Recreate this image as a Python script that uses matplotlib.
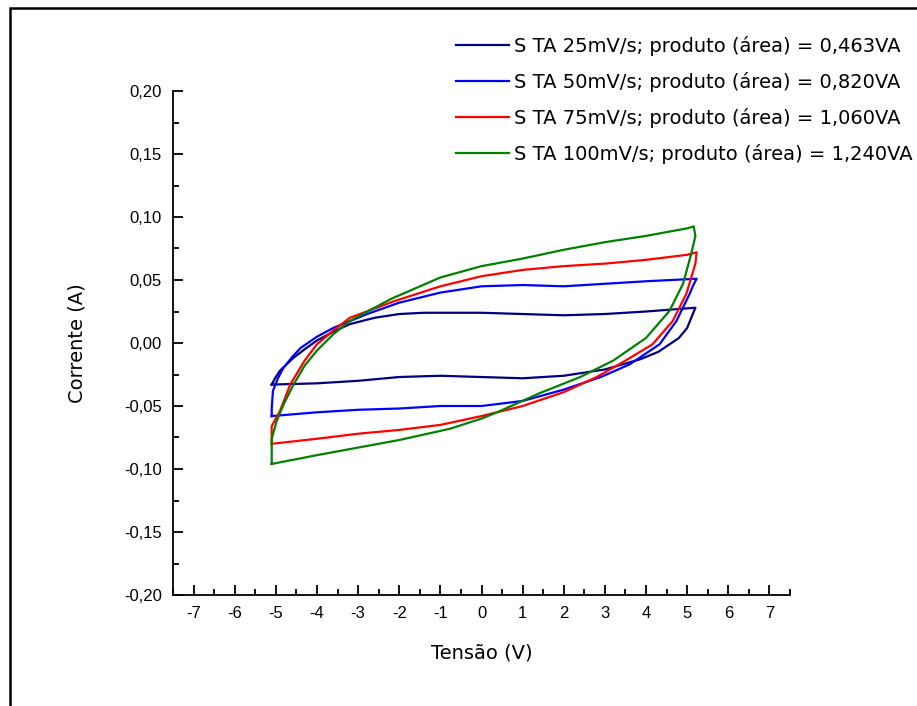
import matplotlib.pyplot as plt
from matplotlib.patches import Rectangle
from matplotlib.ticker import MultipleLocator, FuncFormatter

# voltammetry loops: forward (upper) branch then return (lower) branch
navy_up_x = [-5.10, -5.02, -4.90, -4.58, -4.30, -4.00, -3.60, -3.20, -2.60, -2.00, -1.40, -0.80, 0.00, 1.00, 2.00, 3.00, 4.00, 5.20]
navy_up_y = [-0.033, -0.028, -0.022, -0.012, -0.005, 0.002, 0.009, 0.015, 0.020, 0.023, 0.024, 0.024, 0.024, 0.023, 0.022, 0.023, 0.025, 0.028]
navy_dn_x = [5.20, 5.00, 4.80, 4.30, 3.85, 3.00, 2.00, 1.00, 0.00, -1.00, -2.00, -3.00, -4.00, -5.10]
navy_dn_y = [0.028, 0.012, 0.004, -0.007, -0.013, -0.021, -0.026, -0.028, -0.027, -0.026, -0.027, -0.030, -0.032, -0.033]

blue_up_x = [-5.10, -5.10, -5.07, -4.95, -4.82, -4.60, -4.40, -4.00, -3.60, -2.78, -2.00, -1.00, 0.00, 1.00, 2.00, 3.00, 4.00, 5.23]
blue_up_y = [-0.058, -0.052, -0.038, -0.028, -0.020, -0.011, -0.004, 0.005, 0.012, 0.023, 0.032, 0.040, 0.045, 0.046, 0.045, 0.047, 0.049, 0.051]
blue_dn_x = [5.23, 5.15, 5.06, 4.74, 4.33, 3.60, 2.90, 2.00, 1.00, 0.00, -1.00, -2.00, -3.00, -4.00, -5.10]
blue_dn_y = [0.051, 0.046, 0.039, 0.0175, -0.001, -0.017, -0.027, -0.037, -0.046, -0.050, -0.050, -0.052, -0.053, -0.055, -0.058]

red_up_x = [-5.10, -5.10, -4.90, -4.65, -4.30, -4.00, -3.60, -3.20, -2.14, -1.00, 0.00, 1.00, 2.00, 3.00, 4.00, 5.00, 5.23]
red_up_y = [-0.080, -0.066, -0.054, -0.033, -0.014, -0.001, 0.010, 0.020, 0.033, 0.045, 0.053, 0.058, 0.061, 0.063, 0.066, 0.070, 0.072]
red_dn_x = [5.23, 5.20, 5.10, 4.98, 4.65, 4.16, 3.50, 2.80, 2.00, 1.00, 0.00, -1.00, -2.00, -3.00, -4.00, -5.10]
red_dn_y = [0.072, 0.063, 0.052, 0.039, 0.0175, -0.001, -0.014, -0.027, -0.039, -0.050, -0.058, -0.065, -0.069, -0.072, -0.076, -0.080]

green_up_x = [-5.10, -5.10, -4.98, -4.80, -4.57, -4.30, -4.00, -3.60, -3.20, -2.20, -1.00, 0.00, 1.00, 2.00, 3.00, 4.00, 5.00, 5.16]
green_up_y = [-0.096, -0.076, -0.062, -0.048, -0.033, -0.018, -0.006, 0.007, 0.0175, 0.035, 0.052, 0.061, 0.067, 0.074, 0.080, 0.085, 0.091, 0.0925]
green_dn_x = [5.16, 5.20, 5.10, 4.90, 4.57, 4.00, 3.20, 2.40, 1.40, 0.45, 0.00, -0.76, -2.00, -3.00, -4.00, -5.10]
green_dn_y = [0.0925, 0.085, 0.071, 0.047, 0.0255, 0.004, -0.014, -0.027, -0.040, -0.054, -0.060, -0.068, -0.077, -0.083, -0.089, -0.096]

labels = ['S TA 25mV/s; produto (área) = 0,463VA',
          'S TA 50mV/s; produto (área) = 0,820VA',
          'S TA 75mV/s; produto (área) = 1,060VA',
          'S TA 100mV/s; produto (área) = 1,240VA']
colors = ['#00007f', '#0000ff', '#ff0000', '#008000']

series = [(navy_up_x + navy_dn_x, navy_up_y + navy_dn_y),
          (blue_up_x + blue_dn_x, blue_up_y + blue_dn_y),
          (red_up_x + red_dn_x, red_up_y + red_dn_y),
          (green_up_x + green_dn_x, green_up_y + green_dn_y)]

fig = plt.figure(figsize=(9.17, 7.06), dpi=100)
ax = fig.add_axes([173/917, 1 - 595/706, (790 - 173)/917, (595 - 91)/706])

for (xs, ys), c, lab in zip(series, colors, labels):
    ax.plot(xs, ys, color=c, lw=1.6, label=lab)

ax.set_xlim(-7.5, 7.5)
ax.set_ylim(-0.20, 0.20)
ax.xaxis.set_major_locator(MultipleLocator(1))
ax.xaxis.set_minor_locator(MultipleLocator(0.5))
ax.yaxis.set_major_locator(MultipleLocator(0.05))
ax.yaxis.set_minor_locator(MultipleLocator(0.025))
ax.yaxis.set_major_formatter(FuncFormatter(lambda v, p: ('%.2f' % v).replace('.', ',')))
ax.xaxis.set_major_formatter(FuncFormatter(lambda v, p: '%d' % round(v)))
for s in ['top', 'right']:
    ax.spines[s].set_visible(False)
for s in ['left', 'bottom']:
    ax.spines[s].set_linewidth(1.3)
ax.tick_params(which='major', direction='in', length=7, width=1.3, labelsize=12, pad=8)
ax.tick_params(which='minor', direction='in', length=4, width=1.3)
for t in ax.get_xticklabels() + ax.get_yticklabels():
    t.set_family('Liberation Sans')

ax.set_xlabel('Tensão (V)', fontsize=14, labelpad=16)
ax.set_ylabel('Corrente (A)', fontsize=14, labelpad=27)

fig.legend(loc='upper right', bbox_to_anchor=(1.014, 0.974), frameon=False,
           fontsize=14, handlelength=2.7, handletextpad=0.25, labelspacing=0.82)

fig.add_artist(Rectangle((10/917, -0.1), 1.2, 1 - 8/706 + 0.1, transform=fig.transFigure,
                         fill=False, edgecolor='black', lw=1.8))

fig.savefig('out.png', dpi=100)
